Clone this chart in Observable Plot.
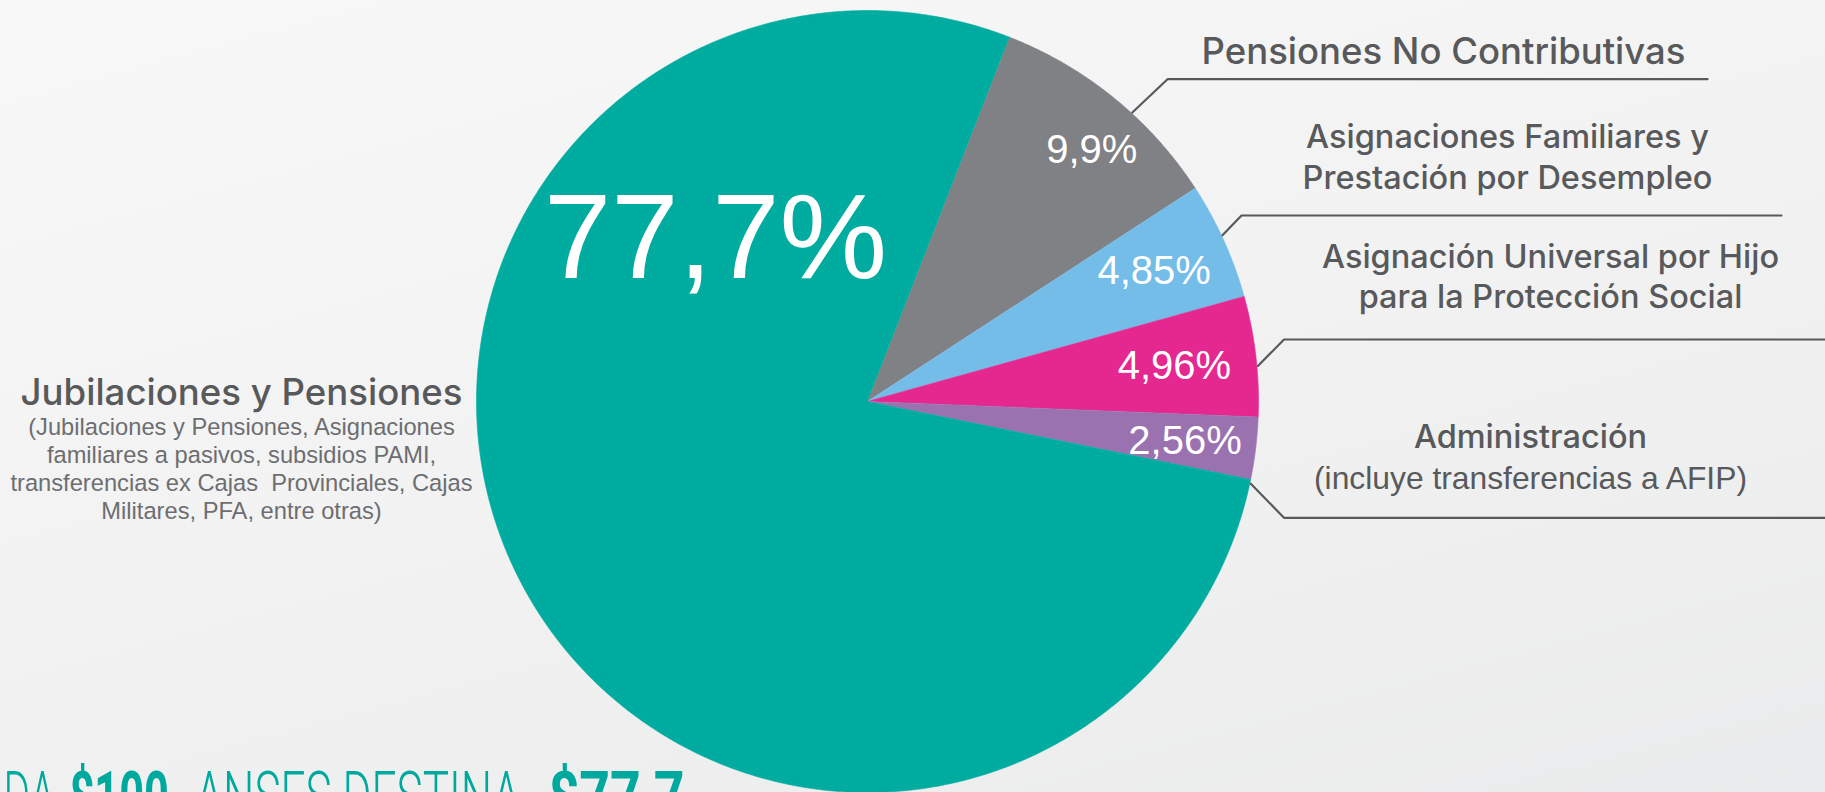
<!DOCTYPE html>
<html><head><meta charset="utf-8">
<script src="https://cdn.jsdelivr.net/npm/d3@7"></script>
<script src="https://cdn.jsdelivr.net/npm/@observablehq/plot@0.6"></script>
<style>html,body{margin:0;padding:0;overflow:hidden;background:#f2f2f2}</style>
</head><body><div id="chart"></div>
<script>
// ---------- DATA ----------
const categories = ["Pensiones No Contributivas", "Asignaciones Familiares y Prestación por Desempleo", "Asignación Universal por Hijo", "Administración", "Jubilaciones y Pensiones"];
const shares = [9.9, 4.85, 4.96, 2.56, 77.7];
const shareLabels = ["9,9%", "4,85%", "4,96%", "2,56%", "77,7%"];
const sliceColors = ["#808184", "#74bde8", "#e5288f", "#9b72b0", "#00ab9f"];

const rightTitles = ["Pensiones No Contributivas", "Asignaciones Familiares y", "Prestación por Desempleo", "Asignación Universal por Hijo", "para la Protección Social", "Administración"];
const rightNotes = ["(incluye transferencias a AFIP)"];
const leftTitle = ["Jubilaciones y Pensiones"];
const leftNotes = ["(Jubilaciones y Pensiones, Asignaciones", "familiares a pasivos, subsidios PAMI,", "transferencias ex Cajas  Provinciales, Cajas", "Militares, PFA, entre otras)"];
const bottomLight = ["DA", "ANSES DESTINA"];
const bottomBold = ["$100,", "$77,7"];

// ---------- LAYOUT ----------
const W = 1825, H = 792;
const CX = 867, CY = 401, R = 391;
const START_DEG = 21.3;
const rad = d => d * Math.PI / 180;
const polar = (a, r) => [CX + r * Math.sin(a), CY - r * Math.cos(a)];

// pie geometry from data
const rows = categories.map((c, i) => ({cat: c, share: shares[i], label: shareLabels[i]}));
const arcs = d3.pie().sort(null).value(d => d.share)
  .startAngle(rad(START_DEG)).endAngle(rad(START_DEG) + 2 * Math.PI)(rows);

const poly = [];
arcs.forEach(a => {
  poly.push({cat: a.data.cat, x: CX, y: CY});
  const n = Math.max(4, Math.ceil((a.endAngle - a.startAngle) / rad(0.4)));
  for (let k = 0; k <= n; k++) {
    const t = a.startAngle + (a.endAngle - a.startAngle) * k / n;
    const [x, y] = polar(t, R);
    poly.push({cat: a.data.cat, x, y});
  }
});

// label placement (radius, angular nudge in degrees) per slice
const labelPlace = [{r: 337, d: 2.6}, {r: 315, d: -0.2}, {r: 309, d: 0}, {r: 320, d: 0.2}];
const smallLabels = arcs.slice(0, 4).map((a, i) => {
  const m = (a.startAngle + a.endAngle) / 2 + rad(labelPlace[i].d);
  const [x, y] = polar(m, labelPlace[i].r);
  return {x, y, text: a.data.label};
});
const [bx, by] = polar(rad(-43.1), 222.5);
const bigLabel = [{x: bx, y: by, text: arcs[4].data.label}];

// leader lines: start angle on rim, elbow, end x
const leaders = [
  {a: 42.5, ex: 1167, ey: 78.7, endX: 1707},
  {a: 64.9, ex: 1241, ey: 215, endX: 1781},
  {a: 84.8, ex: 1283.5, ey: 339, endX: W},
  {a: 102.1, ex: 1283.5, ey: 517.3, endX: W}
];
const leaderPts = [];
leaders.forEach((l, i) => {
  const [sx, sy] = polar(rad(l.a), R + 1);
  leaderPts.push({id: i, x: sx, y: sy}, {id: i, x: l.ex, y: l.ey}, {id: i, x: l.endX, y: l.ey});
});

const rightTitlePos = [
  {x: 1443, y: 63, s: 36.5}, {x: 1507, y: 147, s: 32.5}, {x: 1507, y: 188, s: 32.5},
  {x: 1550, y: 267, s: 32.5}, {x: 1550, y: 307, s: 32.5}, {x: 1530, y: 447, s: 32.5}
];
const rightTitleRows = rightTitles.map((t, i) => ({text: t, ...rightTitlePos[i]}));
const rightNoteRows = rightNotes.map(t => ({text: t, x: 1530, y: 488}));
const leftTitleRows = leftTitle.map(t => ({text: t, x: 241, y: 404}));
const leftNoteRows = leftNotes.map((t, i) => ({text: t, x: 241, y: 434 + i * 28.1}));

const lightPos = [{x: 3, w: 51.5}, {x: 195, w: 324.5}];
const boldPos = [{x: 69, w: 110}, {x: 548, w: 136}];
const BOTTOM_Y = 819;
const lightRows = bottomLight.map((t, i) => ({text: t, ...lightPos[i], y: BOTTOM_Y}));
const boldRows = bottomBold.map((t, i) => ({text: t, ...boldPos[i], y: BOTTOM_Y}));

const TXT = "#58595b";
const plot = Plot.plot({
  width: W, height: H,
  margin: 0,
  style: {background: "linear-gradient(165deg, #f8f8f8 0%, #f2f2f2 50%, #eaebec 100%)", overflow: "hidden"},
  x: {domain: [0, W], range: [0, W], axis: null},
  y: {domain: [0, H], range: [0, H], axis: null},
  color: {domain: categories, range: sliceColors, legend: false},
  marks: [
    Plot.line(poly, {x: "x", y: "y", z: "cat", fill: "cat", stroke: "cat", strokeWidth: 0.6, curve: "linear"}),
    Plot.line(leaderPts, {x: "x", y: "y", z: "id", stroke: TXT, strokeWidth: 2.2, strokeLinejoin: "miter"}),
    Plot.text(smallLabels, {x: "x", y: "y", text: "text", fill: "white", fontSize: 40, fontFamily: "Liberation Sans, Arial, sans-serif", textAnchor: "middle", lineAnchor: "middle"}),
    Plot.text(bigLabel, {x: "x", y: "y", text: "text", fill: "white", fontSize: 121, fontFamily: "Liberation Sans, Arial, sans-serif", textAnchor: "middle", lineAnchor: "middle"}),
    Plot.text(rightTitleRows, {x: "x", y: "y", text: "text", fill: TXT, fontSize: d => d.s, fontWeight: 500, fontFamily: "Inter, Roboto, sans-serif", textAnchor: "middle", lineAnchor: "bottom"}),
    Plot.text(rightNoteRows, {x: "x", y: "y", text: "text", fill: TXT, fontSize: 31.8, fontFamily: "Liberation Sans, Arial, sans-serif", textAnchor: "middle", lineAnchor: "bottom"}),
    Plot.text(leftTitleRows, {x: "x", y: "y", text: "text", fill: TXT, fontSize: 36.6, fontWeight: 500, fontFamily: "Inter, Roboto, sans-serif", textAnchor: "middle", lineAnchor: "bottom"}),
    Plot.text(leftNoteRows, {x: "x", y: "y", text: "text", fill: "#6d6e71", fontSize: 23.7, fontFamily: "Liberation Sans, Arial, sans-serif", textAnchor: "middle", lineAnchor: "bottom"}),
    Plot.text(lightRows, {x: "x", y: "y", text: "text", fill: "#00a99d", fontSize: 68, fontWeight: 300, fontFamily: "Roboto, sans-serif", textAnchor: "start", lineAnchor: "bottom", className: "bottomlight"}),
    Plot.text(boldRows, {x: "x", y: "y", text: "text", fill: "#00a99d", fontSize: 68, fontWeight: 700, fontFamily: "Roboto, sans-serif", textAnchor: "start", lineAnchor: "bottom", className: "bottombold"})
  ]
});
document.getElementById("chart").appendChild(plot);
// condense the bottom headline to the reference widths
plot.querySelectorAll("g.bottomlight text").forEach((t, i) => {
  t.setAttribute("textLength", lightRows[i].w);
  t.setAttribute("lengthAdjust", "spacingAndGlyphs");
});
plot.querySelectorAll("g.bottombold text").forEach((t, i) => {
  t.setAttribute("textLength", boldRows[i].w);
  t.setAttribute("lengthAdjust", "spacingAndGlyphs");
});
</script>
</body></html>
